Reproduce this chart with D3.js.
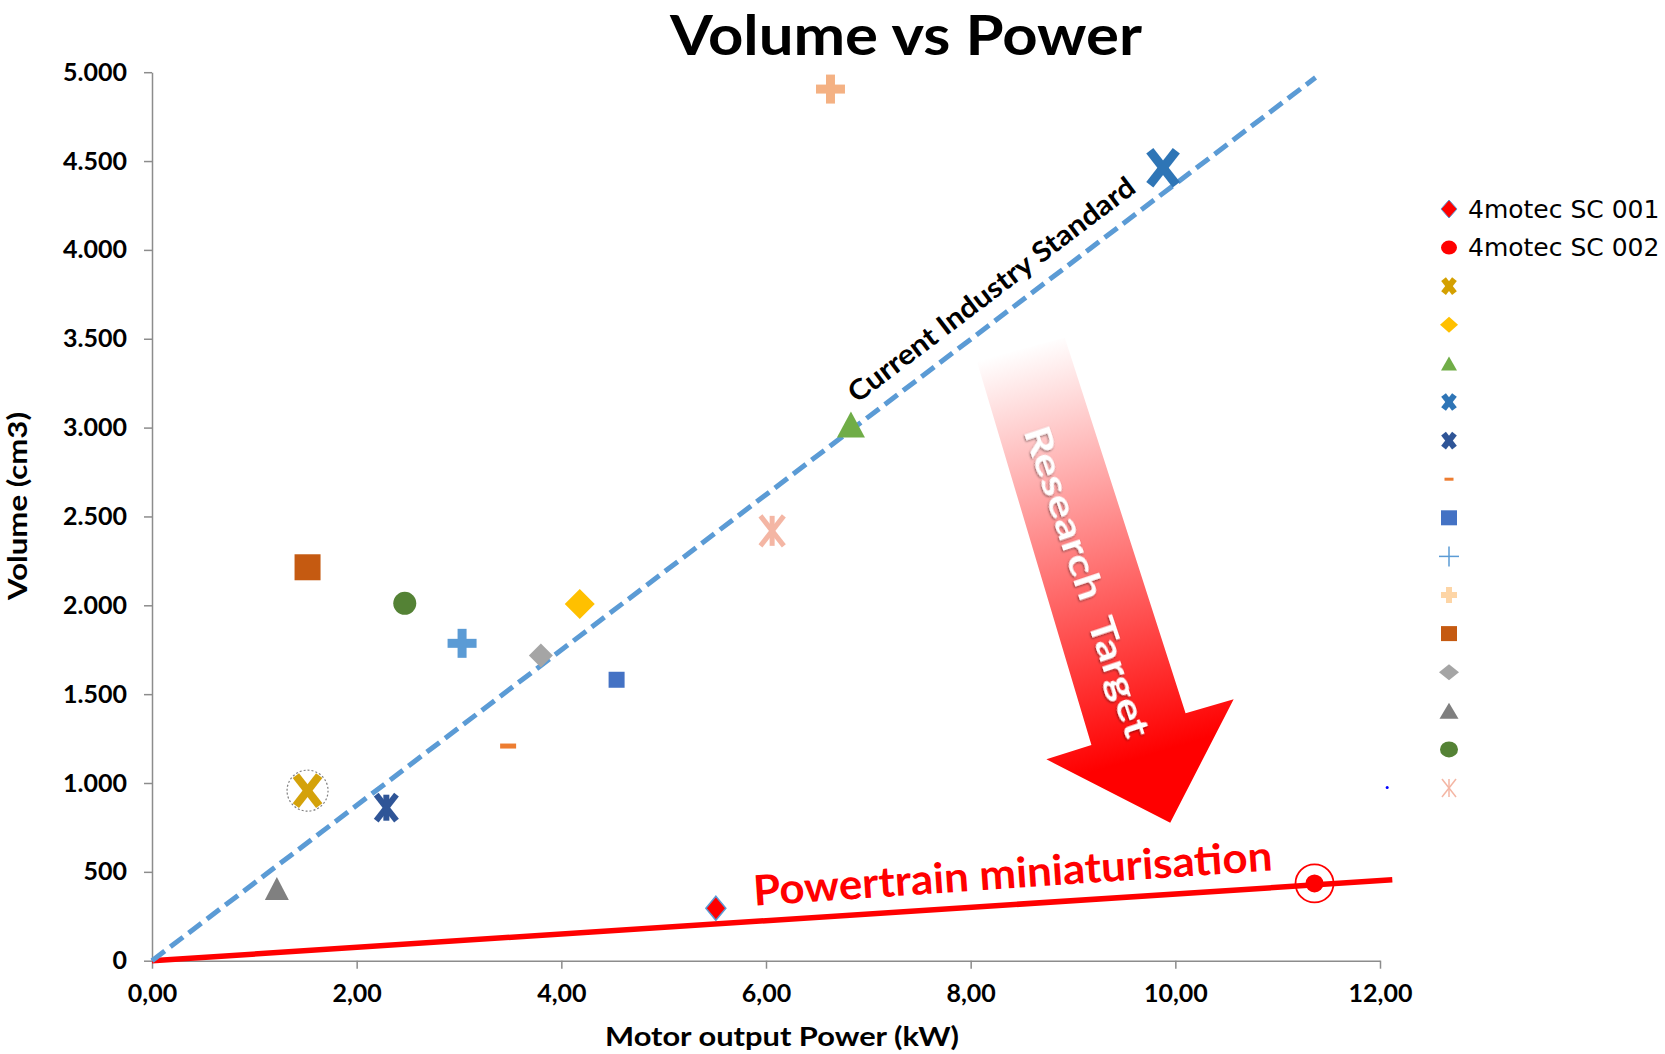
<!DOCTYPE html>
<html>
<head>
<meta charset="utf-8">
<script src="https://cdn.jsdelivr.net/npm/d3@7"></script>
<style>
  body { margin: 0; background: #fff; }
  svg { display: block; }
  text { font-family: Lato, "Open Sans", sans-serif; }
</style>
</head>
<body>
<div id="chart"></div>
<script>
// one point per series
const seriesNames = ["4motec SC 001", "4motec SC 002", "", "", "", "", "", "", "", "", "", "", "", "", "", "", ""];
const powerKW   = [5.51, 11.36, 1.52, 4.18, 6.83, 9.88, 2.29, 3.48, 4.54, 3.03, 6.63, 1.52, 3.80, 1.22, 2.47, 6.06, 12.07];
const volumeCm3 = [295, 435, 957, 2007, 3017, 4462, 861, 1208, 1581, 1786, 4905, 2214, 1717, 407, 2011, 2419, 974];
const legendCount = 16;   // last point has no legend entry

const xTicks = [0, 2, 4, 6, 8, 10, 12];
const yTicks = [0, 500, 1000, 1500, 2000, 2500, 3000, 3500, 4000, 4500, 5000];

// reference lines (kW, cm3)
const industryLine = [[0, 0], [11.37, 4970]];
const miniLine     = [[0, 0], [12.12, 455]];
// "Research Target" arrow outline (kW, cm3)
const arrowOutline = [[8.06, 3375], [8.92, 3506], [10.10, 1392], [10.57, 1471], [9.95, 777], [8.74, 1133], [9.18, 1214]];

// marker look in the plot, by series index
const plotMarks = [
  {shape: "diamond", w: 10, h: 12, fill: "#ff0000", stroke: "#5b9bd5", sw: 1.5},
  {shape: "ringdot", r: 9, ring: 19, fill: "#ff0000"},
  {shape: "x", half: 15, sw: 8, fill: "#d4a20a", halo: 20.5},
  {shape: "diamond", w: 15, h: 15, fill: "#ffc000"},
  {shape: "triangle", w: 28, h: 26, fill: "#70ad47"},
  {shape: "x", half: 17, sw: 9, fill: "#2e75b6"},
  {shape: "asterisk", half: 13, sw: 6, fill: "#2f5597"},
  {shape: "square", w: 16, h: 5, fill: "#ed7d31"},
  {shape: "square", w: 16, h: 16, fill: "#4472c4"},
  {shape: "plus", half: 14.5, sw: 9, fill: "#5b9bd5"},
  {shape: "plus", half: 14.5, sw: 9, fill: "#f4b183"},
  {shape: "square", w: 26, h: 26, fill: "#c55a11"},
  {shape: "diamond", w: 12, h: 12, fill: "#a5a5a5"},
  {shape: "triangle", w: 24, h: 23, fill: "#808080"},
  {shape: "circle", r: 11.5, fill: "#548235"},
  {shape: "asterisk", half: 15, sw: 5, fill: "#f4b6a4"},
  {shape: "circle", r: 1.5, fill: "#0000ff"}
];

// marker look in the legend
const legendMarks = [
  {shape: "diamond", w: 8, h: 9, fill: "#ff0000", stroke: "#5b9bd5", sw: 1},
  {shape: "circle", r: 8, ry: 7, fill: "#ff0000"},
  {shape: "x", half: 7, sw: 6, fill: "#d4a000"},
  {shape: "diamond", w: 9, h: 8, fill: "#ffc000"},
  {shape: "triangle", w: 16, h: 14, fill: "#70ad47"},
  {shape: "x", half: 7, sw: 6, fill: "#2e75b6"},
  {shape: "x", half: 7, sw: 6, fill: "#2f5597"},
  {shape: "square", w: 9, h: 3, fill: "#ed7d31"},
  {shape: "square", w: 16, h: 15, fill: "#4472c4"},
  {shape: "plus", half: 10, sw: 1.5, fill: "#5b9bd5"},
  {shape: "plus", half: 8, sw: 6, fill: "#fdd5a6"},
  {shape: "square", w: 16, h: 15, fill: "#c55a11"},
  {shape: "diamond", w: 10, h: 8, fill: "#a5a5a5"},
  {shape: "triangle", w: 19, h: 16, fill: "#7f7f7f"},
  {shape: "circle", r: 9, ry: 8, fill: "#548235"},
  {shape: "asterisk", half: 9, sw: 1.5, fill: "#f4b6a4"}
];

const W = 1665, H = 1054;
const margin = {top: 72.2, left: 152, right: 285, bottom: 93.3};

const svg = d3.select("#chart").append("svg")
  .attr("width", W).attr("height", H);

const defs = svg.append("defs");

const x = d3.scaleLinear().domain([0, 12]).range([margin.left, W - margin.right]);
const y = d3.scaleLinear().domain([0, 5000]).range([H - margin.bottom, margin.top]);

const loc = d3.formatLocale({decimal: ",", thousands: ".", grouping: [3], currency: ["", "€"]});
const fmtX = loc.format(".2f");
const fmtY = loc.format(",.0f");

// axes
const axisColor = "#8c8c8c";
const gx = svg.append("g")
  .attr("transform", `translate(0,${y(0)})`)
  .call(d3.axisBottom(x).tickValues(xTicks).tickFormat(fmtX).tickSize(8).tickSizeOuter(0).tickPadding(16));
const gy = svg.append("g")
  .attr("transform", `translate(${x(0)},0)`)
  .call(d3.axisLeft(y).tickValues(yTicks).tickFormat(fmtY).tickSize(8).tickSizeOuter(0).tickPadding(17));

[gx, gy].forEach(g => {
  g.select(".domain").attr("stroke", axisColor).attr("stroke-width", 1.5);
  g.selectAll(".tick line").attr("stroke", axisColor).attr("stroke-width", 1.5);
  g.selectAll(".tick text")
    .attr("fill", "#000")
    .style("font-family", "Lato, sans-serif")
    .style("font-weight", "bold")
    .style("font-size", "25px");
});

// title and axis titles
svg.append("text")
  .attr("x", 906).attr("y", 55)
  .attr("text-anchor", "middle")
  .style("font-size", "56px").style("font-weight", "bold")
  .attr("textLength", 472).attr("lengthAdjust", "spacingAndGlyphs")
  .text("Volume vs Power");

svg.append("text")
  .attr("x", 782).attr("y", 1046)
  .attr("text-anchor", "middle")
  .style("font-size", "27px").style("font-weight", "bold")
  .attr("textLength", 354).attr("lengthAdjust", "spacingAndGlyphs")
  .text("Motor output Power (kW)");

svg.append("text")
  .attr("transform", "translate(27,506) rotate(-90)")
  .attr("text-anchor", "middle")
  .style("font-size", "27px").style("font-weight", "bold")
  .attr("textLength", 188).attr("lengthAdjust", "spacingAndGlyphs")
  .text("Volume (cm3)");

// reference lines
const line = d3.line().x(d => x(d[0])).y(d => y(d[1]));

svg.append("path")
  .datum(miniLine)
  .attr("d", line)
  .attr("fill", "none")
  .attr("stroke", "#ff0000")
  .attr("stroke-width", 5.5);

svg.append("path")
  .datum(industryLine)
  .attr("d", line)
  .attr("fill", "none")
  .attr("stroke", "#5b9bd5")
  .attr("stroke-width", 5)
  .attr("stroke-dasharray", "16,7");

// angle of a reference line on screen
const screenAngle = pts => Math.atan2(y(pts[1][1]) - y(pts[0][1]), x(pts[1][0]) - x(pts[0][0])) * 180 / Math.PI;

svg.append("text")
  .attr("transform", `translate(${x(8.26)},${y(3733)}) rotate(${screenAngle(industryLine)})`)
  .attr("text-anchor", "middle")
  .style("font-size", "28px").style("font-weight", "bold")
  .attr("fill", "#000")
  .attr("textLength", 352).attr("lengthAdjust", "spacingAndGlyphs")
  .text("Current Industry Standard");

svg.append("text")
  .attr("transform", `translate(${x(8.42)},${y(409)}) rotate(-3.9)`)
  .attr("text-anchor", "middle")
  .style("font-size", "42px").style("font-weight", "bold")
  .attr("fill", "#ff0000")
  .attr("textLength", 520).attr("lengthAdjust", "spacingAndGlyphs")
  .text("Powertrain miniaturisation");

// research target arrow
const grad = defs.append("linearGradient")
  .attr("id", "arrowGrad")
  .attr("gradientUnits", "userSpaceOnUse")
  .attr("x1", x(8.5)).attr("y1", y(3450))
  .attr("x2", x(9.7)).attr("y2", y(1150));
grad.append("stop").attr("offset", 0).attr("stop-color", "#ffffff");
grad.append("stop").attr("offset", 0.45).attr("stop-color", "#ff8a8a");
grad.append("stop").attr("offset", 1).attr("stop-color", "#ff0000");

svg.append("path")
  .datum(arrowOutline)
  .attr("d", d3.line().x(d => x(d[0])).y(d => y(d[1])).curve(d3.curveLinearClosed))
  .attr("fill", "url(#arrowGrad)");

const shadow = defs.append("filter").attr("id", "txtShadow")
  .attr("x", "-20%").attr("y", "-20%").attr("width", "140%").attr("height", "140%");
shadow.append("feDropShadow")
  .attr("dx", 1).attr("dy", 1).attr("stdDeviation", 1.2)
  .attr("flood-color", "#000").attr("flood-opacity", 0.5);

svg.append("text")
  .attr("transform", `translate(${x(9.15)},${y(2135)}) rotate(71.5)`)
  .attr("text-anchor", "middle")
  .attr("dominant-baseline", "central")
  .style("font-size", "36px").style("font-weight", "bold")
  .attr("fill", "#ffffff")
  .attr("filter", "url(#txtShadow)")
  .attr("textLength", 326).attr("lengthAdjust", "spacingAndGlyphs")
  .style("white-space", "pre")
  .text("Research  Target");

// marker drawing
function drawMark(g, m) {
  const c = m.fill;
  switch (m.shape) {
    case "diamond":
      g.append("path")
        .attr("d", `M0,${-m.h}L${m.w},0L0,${m.h}L${-m.w},0Z`)
        .attr("fill", c)
        .attr("stroke", m.stroke || "none")
        .attr("stroke-width", m.sw || 0);
      break;
    case "circle":
      g.append("ellipse").attr("rx", m.r).attr("ry", m.ry || m.r).attr("fill", c);
      break;
    case "ringdot":
      g.append("circle").attr("r", m.ring).attr("fill", "none").attr("stroke", c).attr("stroke-width", 1.8);
      g.append("circle").attr("r", m.r).attr("fill", c);
      break;
    case "square":
      g.append("rect").attr("x", -m.w / 2).attr("y", -m.h / 2)
        .attr("width", m.w).attr("height", m.h).attr("fill", c);
      break;
    case "triangle":
      g.append("path")
        .attr("d", `M0,${-m.h / 2}L${m.w / 2},${m.h / 2}L${-m.w / 2},${m.h / 2}Z`)
        .attr("fill", c);
      break;
    case "x":
    case "asterisk":
    case "plus": {
      const a = m.half;
      let segs;
      if (m.shape === "plus") segs = [[-a, 0, a, 0], [0, -a, 0, a]];
      else {
        const d = a * 0.78;
        segs = [[-d, -a, d, a], [-d, a, d, -a]];
        if (m.shape === "asterisk") segs.push([0, -a, 0, a]);
      }
      if (m.halo) {
        g.append("circle").attr("r", m.halo).attr("fill", "none")
          .attr("stroke", "#7f7f7f").attr("stroke-width", 1.2).attr("stroke-dasharray", "2,2");
      }
      g.selectAll("line.seg").data(segs).enter().append("line")
        .attr("class", "seg")
        .attr("x1", d => d[0]).attr("y1", d => d[1])
        .attr("x2", d => d[2]).attr("y2", d => d[3])
        .attr("stroke", c).attr("stroke-width", m.sw);
      break;
    }
  }
}

// points
const points = powerKW.map((p, i) => ({p, v: volumeCm3[i], i}));
svg.append("g").selectAll("g.pt")
  .data(points)
  .enter().append("g")
  .attr("class", "pt")
  .attr("transform", d => `translate(${x(d.p)},${y(d.v)})`)
  .each(function (d) { drawMark(d3.select(this), plotMarks[d.i]); });

// legend
const legendRows = d3.range(legendCount);
const leg = svg.append("g").attr("transform", "translate(1449,209)");
const rows = leg.selectAll("g.row")
  .data(legendRows)
  .enter().append("g")
  .attr("class", "row")
  .attr("transform", i => `translate(0,${i * 38.6})`);
rows.each(function (i) { drawMark(d3.select(this), legendMarks[i]); });
rows.append("text")
  .attr("x", 19).attr("y", 0)
  .attr("dominant-baseline", "central")
  .style("font-family", "'DejaVu Sans', sans-serif")
  .style("font-size", "25px")
  .attr("fill", "#000")
  .text(i => seriesNames[i]);
</script>
</body>
</html>
